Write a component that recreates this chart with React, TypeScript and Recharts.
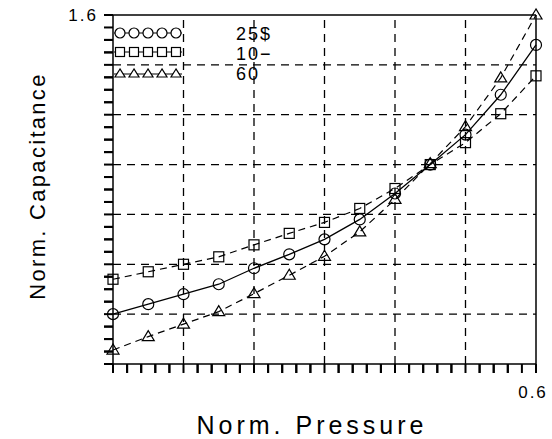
import React from "react";
import { LineChart, Line, XAxis, YAxis, ReferenceLine } from "recharts";

// normalized pressure (x) and normalized capacitance for the three curves
const pressure = [0, 0.05, 0.1, 0.15, 0.2, 0.25, 0.3, 0.35, 0.4, 0.45, 0.5, 0.55, 0.6];
const cap25 = [1.0, 1.02, 1.04, 1.06, 1.092, 1.12, 1.15, 1.19, 1.242, 1.3, 1.36, 1.44, 1.54];
const cap10 = [1.07, 1.085, 1.1, 1.115, 1.139, 1.162, 1.184, 1.212, 1.252, 1.3, 1.344, 1.402, 1.478];
const cap60 = [0.928, 0.955, 0.98, 1.005, 1.041, 1.078, 1.116, 1.165, 1.23, 1.302, 1.376, 1.474, 1.6];

const legendLabels = ["25$", "10\u2212", "60"];

const xMajor = [0, 0.1, 0.2, 0.3, 0.4, 0.5, 0.6];
const yMajor = [0.9, 1.0, 1.1, 1.2, 1.3, 1.4, 1.5, 1.6];
const xTicks = Array.from({ length: 31 }, (_, i) => +(i * 0.02).toFixed(2));
const yTicks = Array.from({ length: 29 }, (_, i) => +(0.9 + i * 0.025).toFixed(3));

const data = pressure.map((p, i) => ({ p, c25: cap25[i], c10: cap10[i], c60: cap60[i] }));

const FONT = "'Liberation Sans', Arial, sans-serif";
const isMajor = (v: number, step: number) => Math.abs(v / step - Math.round(v / step)) < 1e-6;
const fmt = (v: number) => (isMajor(v, 0.1) ? v.toFixed(1) : "");

// tick length (outside the frame) in data units, about 9px
const X_TICK = 0.018;
const Y_TICK = 0.0128;

const CircleDot = (p: any) => <circle key={p.index} cx={p.cx} cy={p.cy} r={5.5} fill="none" stroke="#000" strokeWidth={1.2} />;
const SquareDot = (p: any) => <rect key={p.index} x={p.cx - 5} y={p.cy - 5} width={10} height={10} fill="none" stroke="#000" strokeWidth={1.2} />;
const TriDot = (p: any) => (
  <polygon key={p.index} points={`${p.cx},${p.cy - 6} ${p.cx - 6},${p.cy + 4} ${p.cx + 6},${p.cy + 4}`} fill="none" stroke="#000" strokeWidth={1.2} />
);

const grid = { stroke: "#000", strokeWidth: 1.3, strokeDasharray: "8 6" };
const tickStyle = { fill: "#000", fontSize: 17, fontFamily: FONT, letterSpacing: 2 };

export default function App() {
  const legendX = [120, 134, 148, 162, 176];
  return (
    <div style={{ position: "absolute", left: 0, top: 0, width: 552, height: 439, background: "#fff" }}>
      <svg width={552} height={439} style={{ position: "absolute", left: 0, top: 0 }}>
        <line x1={114} y1={33} x2={182} y2={33} stroke="#000" strokeWidth={1.2} />
        {legendX.map((x) => (
          <circle key={`lc${x}`} cx={x} cy={33} r={5} fill="#fff" stroke="#000" strokeWidth={1.2} />
        ))}
        <line x1={114} y1={52} x2={182} y2={52} stroke="#000" strokeWidth={1.2} />
        {legendX.map((x) => (
          <rect key={`ls${x}`} x={x - 4.5} y={47.5} width={9} height={9} fill="#fff" stroke="#000" strokeWidth={1.2} />
        ))}
        <line x1={114} y1={74} x2={182} y2={74} stroke="#000" strokeWidth={1.2} />
        {legendX.map((x) => (
          <polygon key={`lt${x}`} points={`${x},${69} ${x - 5},${77} ${x + 5},${77}`} fill="#fff" stroke="#000" strokeWidth={1.2} />
        ))}
        {legendLabels.map((t, i) => (
          <text key={t} x={236} y={40 + i * 20} fontSize={18} fontFamily={FONT} letterSpacing={2} fill="#000">
            {t}
          </text>
        ))}
        <text transform="translate(45,186) rotate(-90)" textAnchor="middle" fontSize={22} fontFamily={FONT} letterSpacing={2.3} fill="#000">
          Norm. Capacitance
        </text>
        <text x={312} y={434} textAnchor="middle" fontSize={25} fontFamily={FONT} letterSpacing={4} fill="#000">
          Norm.  Pressure
        </text>
      </svg>
      <LineChart width={552} height={439} data={data} margin={{ top: 15, right: 16, left: 0, bottom: 0 }}>
        <XAxis
          dataKey="p"
          type="number"
          domain={[0, 0.6]}
          ticks={xTicks}
          height={75}
          tickSize={9}
          tickMargin={13}
          tickFormatter={fmt}
          tickLine={{ stroke: "#000", strokeWidth: 2 }}
          tick={{ ...tickStyle, dx: -3 }}
          axisLine={{ stroke: "#000", strokeWidth: 1.5 }}
        />
        <YAxis
          type="number"
          domain={[0.9, 1.6]}
          ticks={yTicks}
          width={113}
          tickSize={9}
          tickMargin={6}
          tickFormatter={fmt}
          tickLine={{ stroke: "#000", strokeWidth: 2 }}
          tick={tickStyle}
          axisLine={{ stroke: "#000", strokeWidth: 1.5 }}
        />
        {xMajor.slice(1, -1).map((v) => (
          <ReferenceLine key={`gx${v}`} x={v} {...grid} />
        ))}
        {yMajor.slice(1, -1).map((v) => (
          <ReferenceLine key={`gy${v}`} y={v} {...grid} />
        ))}
        {xTicks.map((v) => (
          <ReferenceLine
            key={`tx${v}`}
            ifOverflow="visible"
            segment={[{ x: v, y: 0.9 }, { x: v, y: 0.9 - X_TICK }]}
            stroke="#000"
            strokeWidth={2}
          />
        ))}
        {yTicks.map((v) => (
          <ReferenceLine
            key={`ty${v}`}
            ifOverflow="visible"
            segment={[{ x: 0, y: v }, { x: -Y_TICK, y: v }]}
            stroke="#000"
            strokeWidth={2}
          />
        ))}
        <ReferenceLine x={0.6} stroke="#000" strokeWidth={1.5} />
        <ReferenceLine y={1.6} stroke="#000" strokeWidth={1.5} />
        <Line dataKey="c10" stroke="#000" strokeWidth={1.2} strokeDasharray="7 5" dot={SquareDot} isAnimationActive={false} />
        <Line dataKey="c60" stroke="#000" strokeWidth={1.2} strokeDasharray="7 5" dot={TriDot} isAnimationActive={false} />
        <Line dataKey="c25" stroke="#000" strokeWidth={1.3} dot={CircleDot} isAnimationActive={false} />
      </LineChart>
    </div>
  );
}
